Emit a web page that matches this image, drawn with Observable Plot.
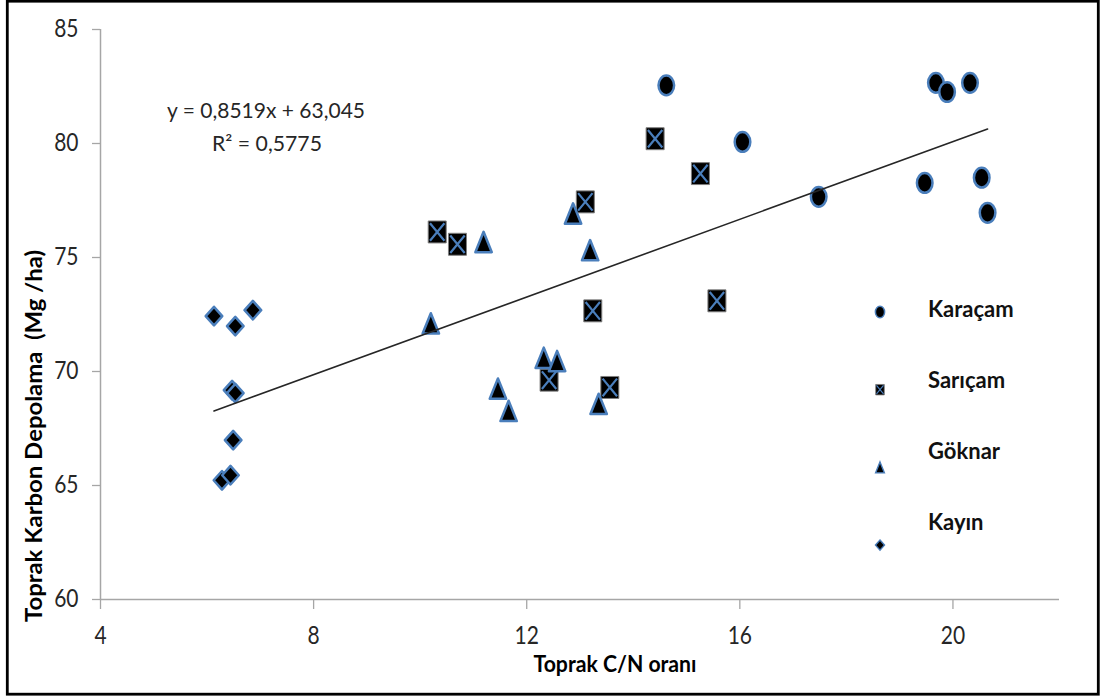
<!DOCTYPE html>
<html><head><meta charset="utf-8">
<script src="https://cdn.jsdelivr.net/npm/d3@7"></script>
<script src="https://cdn.jsdelivr.net/npm/@observablehq/plot@0.6"></script>
<style>html,body{margin:0;padding:0;background:#fff;overflow:hidden}#chart{width:1103px;height:700px}</style>
</head><body><div id="chart"></div>
<script>
// ---- data ----
const speciesNames = ["Karaçam", "Sarıçam", "Göknar", "Kayın"];
const karacamCN = [14.62, 16.05, 17.48, 19.68, 19.89, 20.32, 19.47, 20.54, 20.65];
const karacamC  = [82.55, 80.07, 77.66, 82.66, 82.26, 82.66, 78.27, 78.50, 76.96];
const saricamCN = [10.32, 10.70, 13.10, 13.24, 12.42, 13.56, 14.41, 15.26, 15.57];
const saricamC  = [76.12, 75.58, 77.44, 72.66, 69.62, 69.30, 80.21, 78.68, 73.10];
const goknarCN  = [10.20, 11.19, 12.87, 13.19, 12.32, 12.57, 11.46, 11.66, 13.35];
const goknarC   = [72.11, 75.68, 76.93, 75.32, 70.60, 70.46, 69.25, 68.27, 68.58];
const kayinCN   = [6.13, 6.53, 6.86, 6.47, 6.53, 6.49, 6.28, 6.44];
const kayinC    = [72.43, 71.99, 72.69, 69.18, 69.05, 66.99, 65.23, 65.45];
const xTicks = [4, 8, 12, 16, 20];
const yTicks = [60, 65, 70, 75, 80, 85];
const slope = 0.8519, intercept = 63.045;
const equationText = "y = 0,8519x + 63,045";
const r2Text = "R² = 0,5775";
const xTitle = "Toprak C/N oranı";
const yTitle = "Toprak Karbon Depolama  (Mg /ha)";

// ---- build table ----
const seriesCN = [karacamCN, saricamCN, goknarCN, kayinCN];
const seriesC = [karacamC, saricamC, goknarC, kayinC];
const rows = [];
speciesNames.forEach((s, i) => seriesCN[i].forEach((v, j) => rows.push({species: s, cn: v, c: seriesC[i][j]})));
const allCN = rows.map(d => d.cn);
const xmin = d3.min(allCN), xmax = d3.max(allCN);
const trend = [xmin, xmax].map(x => ({cn: x, c: slope * x + intercept}));

// ---- custom symbols (slightly taller than wide) ----
const K = 0.5523;
const ellipse = {draw(ctx, size) { const w = Math.sqrt(size / Math.PI), h = w * 1.26;
  ctx.moveTo(w, 0); ctx.bezierCurveTo(w, K*h, K*w, h, 0, h); ctx.bezierCurveTo(-K*w, h, -w, K*h, -w, 0);
  ctx.bezierCurveTo(-w, -K*h, -K*w, -h, 0, -h); ctx.bezierCurveTo(K*w, -h, w, -K*h, w, 0); ctx.closePath(); }};
const box = {draw(ctx, size) { const w = Math.sqrt(size / Math.PI), h = w * 1.22; ctx.rect(-w, -h, 2*w, 2*h); }};
const cross = {draw(ctx, size) { const w = Math.sqrt(size / Math.PI), h = w * 1.22;
  ctx.moveTo(-w, -h); ctx.lineTo(w, h); ctx.moveTo(w, -h); ctx.lineTo(-w, h); }};
const tri = {draw(ctx, size) { const w = Math.sqrt(size / Math.PI), h = w * 1.24;
  ctx.moveTo(0, -h); ctx.lineTo(w, h); ctx.lineTo(-w, h); ctx.closePath(); }};
const diamond = {draw(ctx, size) { const w = Math.sqrt(size / Math.PI), h = w * 1.12;
  ctx.moveTo(0, -h); ctx.lineTo(w, 0); ctx.lineTo(0, h); ctx.lineTo(-w, 0); ctx.closePath(); }};

const blue = "#4a7ebb";
const grayAxis = "#a6a6a6";
const by = s => rows.filter(d => d.species === s);

const plot = Plot.plot({
  width: 1103, height: 700,
  marginLeft: 100, marginRight: 44, marginTop: 29, marginBottom: 101,
  style: {fontFamily: "Lato, sans-serif", fontSize: "21px", color: "#262626", background: "#fff", overflow: "visible"},
  x: {domain: [4, 22], label: null},
  y: {domain: [60, 85], label: null},
  marks: [
    Plot.axisX({ticks: xTicks, tickSize: 10, tickPadding: 17, stroke: grayAxis, strokeWidth: 1.3, label: null, tickFormat: d => String(d), className: "xax"}),
    Plot.axisY({ticks: yTicks, tickSize: 8, tickPadding: 14, stroke: grayAxis, strokeWidth: 1.3, label: null, tickFormat: d => String(d), className: "yax"}),
    Plot.ruleY([60], {stroke: grayAxis, strokeWidth: 1.5}),
    Plot.ruleX([4], {stroke: grayAxis, strokeWidth: 1.5}),
    Plot.dot(by("Karaçam"), {x: "cn", y: "c", symbol: ellipse, r: 7.8, fill: "#000", stroke: blue, strokeWidth: 2.5}),
    Plot.dot(by("Sarıçam"), {x: "cn", y: "c", symbol: box, r: 9, fill: "#000", stroke: "#7f7f7f", strokeWidth: 1}),
    Plot.dot(by("Sarıçam"), {x: "cn", y: "c", symbol: cross, r: 7.2, fill: "none", stroke: blue, strokeWidth: 2.2}),
    Plot.dot(by("Göknar"), {x: "cn", y: "c", symbol: tri, r: 8.2, fill: "#000", stroke: blue, strokeWidth: 2.5, strokeLinejoin: "round"}),
    Plot.dot(by("Kayın"), {x: "cn", y: "c", symbol: diamond, r: 8.3, fill: "#000", stroke: blue, strokeWidth: 2.5, strokeLinejoin: "round"}),
    Plot.line(trend, {x: "cn", y: "c", stroke: "#262626", strokeWidth: 1.6})
  ]
});
document.getElementById("chart").appendChild(plot);

// stretch tick labels vertically (narrow, tall look of the original)
plot.querySelectorAll("text").forEach(t => {
  const tr = t.getAttribute("transform");
  if (tr && /translate/.test(tr)) t.setAttribute("transform", tr + " scale(1,1.18)");
});

// ---- annotations / layout ----
const svg = d3.select(plot);
svg.append("rect").attr("x", 7.3).attr("y", 1.2).attr("width", 1091).attr("height", 693)
  .attr("fill", "none").attr("stroke", "#000").attr("stroke-width", 2.8);

svg.append("text").text(xTitle).attr("x", 615).attr("y", 672).attr("text-anchor", "middle")
  .attr("font-family", "Lato, sans-serif").attr("font-weight", 700).attr("font-size", 22)
  .attr("textLength", 163).attr("lengthAdjust", "spacingAndGlyphs").attr("fill", "#000");

svg.append("text").text(yTitle).attr("transform", "translate(42,436) rotate(-90)").attr("text-anchor", "middle")
  .attr("font-family", "Lato, sans-serif").attr("font-weight", 700).attr("font-size", 23)
  .attr("textLength", 372).attr("lengthAdjust", "spacingAndGlyphs").attr("fill", "#000");

svg.append("text").text(equationText).attr("x", 266).attr("y", 118).attr("text-anchor", "middle")
  .attr("font-family", "Lato, sans-serif").attr("font-size", 21)
  .attr("textLength", 198).attr("lengthAdjust", "spacingAndGlyphs").attr("fill", "#262626");
svg.append("text").text(r2Text).attr("x", 267).attr("y", 151).attr("text-anchor", "middle")
  .attr("font-family", "Lato, sans-serif").attr("font-size", 21)
  .attr("textLength", 110).attr("lengthAdjust", "spacingAndGlyphs").attr("fill", "#262626");

// legend
const legSymbols = [[ellipse, 4.6, "#000", blue, 1.5], [box, 4.3, "#000", "#7f7f7f", 0.8], [tri, 4.4, "#000", blue, 1.4], [diamond, 4.5, "#000", blue, 1.4]];
const leg = svg.append("g");
speciesNames.forEach((s, i) => {
  const my = 312 + i * 77.7, ty = 317 + i * 71;
  const [sym, r, f, st, sw] = legSymbols[i];
  leg.append("path").attr("transform", `translate(880,${my})`).attr("d", d3.symbol(sym, r * r * Math.PI)())
    .attr("fill", f).attr("stroke", st).attr("stroke-width", sw);
  if (i === 1) leg.append("path").attr("transform", `translate(880,${my})`).attr("d", d3.symbol(cross, 3.5 * 3.5 * Math.PI)())
    .attr("fill", "none").attr("stroke", blue).attr("stroke-width", 1.2);
  leg.append("text").text(s).attr("x", 928).attr("y", ty).attr("text-anchor", "start")
    .attr("font-family", "Lato, sans-serif").attr("font-weight", 700).attr("font-size", 22).attr("fill", "#111");
});
</script></body></html>
